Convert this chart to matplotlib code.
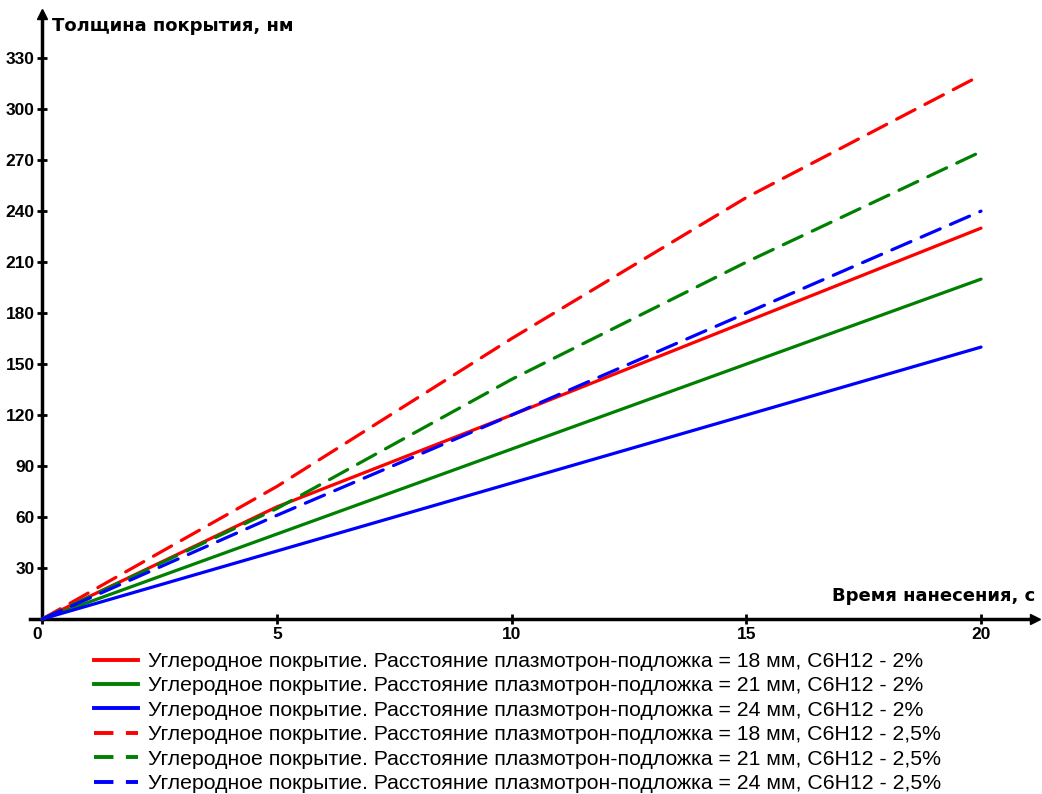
import matplotlib
matplotlib.use("Agg")
import matplotlib.pyplot as plt
from matplotlib.lines import Line2D

# time, s
time_s = [0, 5, 10, 15, 20]

# coating thickness, nm  (C6H12 - 2%)
red_18_2 = [0, 66, 120, 175, 230]
green_21_2 = [0, 50, 100, 150, 200]
blue_24_2 = [0, 40, 80, 120, 160]
# coating thickness, nm  (C6H12 - 2,5%)
red_18_25 = [0, 78, 165, 248, 320]
green_21_25 = [0, 65, 141, 210, 275]
blue_24_25 = [0, 61, 120, 180, 240]

labels = [
    "Углеродное покрытие. Расстояние плазмотрон-подложка = 18 мм, C6H12 - 2%",
    "Углеродное покрытие. Расстояние плазмотрон-подложка = 21 мм, C6H12 - 2%",
    "Углеродное покрытие. Расстояние плазмотрон-подложка = 24 мм, C6H12 - 2%",
    "Углеродное покрытие. Расстояние плазмотрон-подложка = 18 мм, C6H12 - 2,5%",
    "Углеродное покрытие. Расстояние плазмотрон-подложка = 21 мм, C6H12 - 2,5%",
    "Углеродное покрытие. Расстояние плазмотрон-подложка = 24 мм, C6H12 - 2,5%",
]
x_ticks = [0, 5, 10, 15, 20]
y_ticks = [30, 60, 90, 120, 150, 180, 210, 240, 270, 300, 330]

W, H = 1042, 794
fig = plt.figure(figsize=(W / 100, H / 100), dpi=100)
ax = fig.add_axes([30 / W, 1 - 619 / H, (1035 - 30) / W, (619 - 14) / H])
ax.set_xlim(-0.26, 21.15)
ax.set_ylim(0, 356)

series = [red_18_2, green_21_2, blue_24_2, red_18_25, green_21_25, blue_24_25]
colors = ["#ff0000", "#008000", "#0000ff"] * 2
handles = []
for i, (ys, c) in enumerate(zip(series, colors)):
    dashed = i >= 3
    ln, = ax.plot(time_s, ys, color=c, lw=2.3, solid_capstyle="round",
                  dash_capstyle="round", zorder=3 + (1 if dashed else 0),
                  clip_on=False)
    if dashed:
        ln.set_dashes([6.5, 3.5])
    handles.append(Line2D([], [], color=c, lw=2.8,
                          dashes=[5, 3.2] if dashed else (None, None),
                          linestyle="--" if dashed else "-"))

# axes with arrows
for s in ("top", "right"):
    ax.spines[s].set_visible(False)
ax.spines["left"].set_position(("data", 0))
ax.spines["left"].set_linewidth(2.5)
ax.spines["bottom"].set_linewidth(2.5)
ax.plot(1, 0, ">k", ms=7, transform=ax.get_yaxis_transform(), clip_on=False)
ax.plot(0, 1, "^k", ms=7, transform=ax.get_xaxis_transform(), clip_on=False)

tick_font = dict(family="Liberation Sans", weight="bold", size=12.5)
ax.set_xticks(x_ticks)
ax.set_xticklabels([str(t) for t in x_ticks], **tick_font)
ax.set_yticks(y_ticks)
ax.set_yticklabels([str(t) for t in y_ticks], **tick_font)
ax.tick_params(direction="inout", length=7, width=2, pad=2)
ax.get_xticklabels()[0].set_horizontalalignment("right")

ax.text(0.2, 349, "Толщина покрытия, нм", fontsize=13, weight="heavy",
        family="DejaVu Sans", va="center", ha="left")
ax.text(21.15, 8, "Время нанесения, с", fontsize=13, weight="heavy",
        family="DejaVu Sans", va="bottom", ha="right")

fig.legend(handles, labels, loc="upper left", bbox_to_anchor=(94 / W, 1 - 652 / H),
           frameon=False, prop=dict(family="Liberation Sans", size=15.3),
           handlelength=2.08, handletextpad=0.45, labelspacing=0.255,
           borderaxespad=0, borderpad=0)

fig.savefig("out.png", dpi=100)
